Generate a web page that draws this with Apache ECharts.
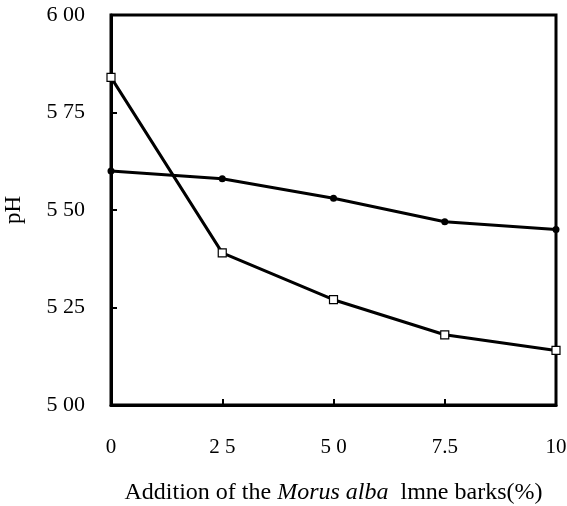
<!DOCTYPE html>
<html><head><meta charset="utf-8">
<script src="https://cdn.jsdelivr.net/npm/echarts@6/dist/echarts.min.js"></script>
<style>html,body{margin:0;padding:0;background:#fff}#c{width:567px;height:506px}</style>
</head><body><div id="c"></div>
<script>
var xValues = [0, 2.5, 5, 7.5, 10];
var circleSeries = [5.60, 5.58, 5.53, 5.47, 5.45];
var squareSeries = [5.84, 5.39, 5.27, 5.18, 5.14];
var xTickLabels = {'0': '0', '2.5': '2 5', '5': '5 0', '7.5': '7.5', '10': '10'};
var yTickLabels = {'5': '5 00', '5.25': '5 25', '5.5': '5 50', '5.75': '5 75', '6': '6 00'};

var font = 'Liberation Serif';
function pairs(ys) { return xValues.map(function (x, i) { return [x, ys[i]]; }); }

var chart = echarts.init(document.getElementById('c'));
chart.setOption({
  animation: false,
  backgroundColor: '#fff',
  grid: { left: 111, right: 11, top: 15, bottom: 101, outerBoundsMode: 'none', containLabel: false,
          show: true, borderColor: '#000', borderWidth: 3, backgroundColor: 'transparent' },
  xAxis: {
    type: 'value', min: 0, max: 10, interval: 2.5,
    name: '{n|Addition of the }{i|Morus alba}{n|  lmne barks(%)}',
    nameLocation: 'middle', nameGap: 76,
    nameTextStyle: { rich: { n: { fontFamily: font, fontSize: 24, color: '#000' }, i: { fontFamily: font, fontSize: 24, fontStyle: 'italic', color: '#000' } } },
    axisLine: { lineStyle: { color: '#000', width: 3 } },
    axisTick: { inside: true, length: 6, lineStyle: { color: '#000', width: 2 } },
    axisLabel: { margin: 32, fontFamily: font, fontSize: 21, color: '#000', formatter: function (v) { return xTickLabels[String(v)]; } },
    splitLine: { show: false }
  },
  yAxis: {
    type: 'value', min: 5, max: 6, interval: 0.25,
    name: 'pH', nameLocation: 'middle', nameGap: 86, nameRotate: 90,
    nameTextStyle: { fontFamily: font, fontSize: 23, color: '#000' },
    axisLine: { lineStyle: { color: '#000', width: 3 } },
    axisTick: { inside: true, length: 6, lineStyle: { color: '#000', width: 2 } },
    axisLabel: { margin: 26, fontFamily: font, fontSize: 22, color: '#000', formatter: function (v) { return yTickLabels[String(v)]; } },
    splitLine: { show: false }
  },
  series: [
    { type: 'line', data: pairs(circleSeries), symbol: 'circle', symbolSize: 7,
      lineStyle: { color: '#000', width: 3 }, itemStyle: { color: '#000', borderColor: '#000', borderWidth: 0 }, z: 5 },
    { type: 'line', data: pairs(squareSeries), symbol: 'rect', symbolSize: 8,
      lineStyle: { color: '#000', width: 3 }, itemStyle: { color: '#fff', borderColor: '#000', borderWidth: 1.2 }, z: 6 }
  ]
});
</script></body></html>
